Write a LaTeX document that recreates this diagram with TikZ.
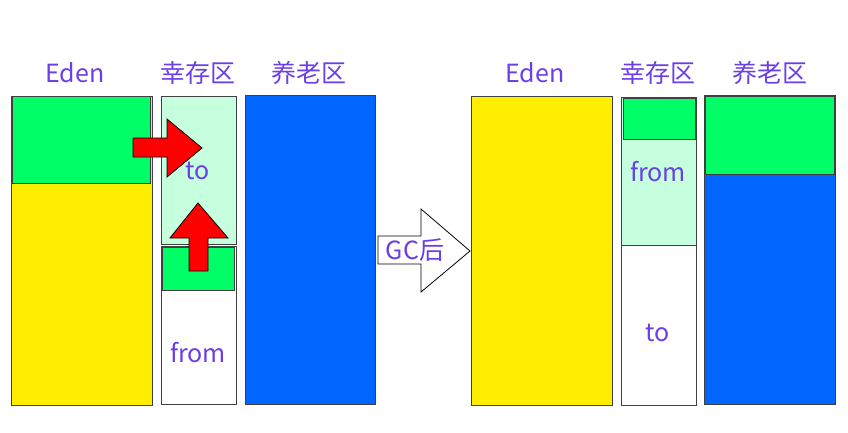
\documentclass[tikz,border=0pt]{standalone}
\usepackage{fontspec}
\newfontfamily\cjk{Noto Sans CJK SC}
\usepackage{tikz}

\definecolor{edenyellow}{HTML}{FFEE00}
\definecolor{livegreen}{HTML}{00FF66}
\definecolor{palegreen}{HTML}{C6FFDD}
\definecolor{oldblue}{HTML}{0066FF}
\definecolor{labelpurple}{HTML}{6A3FE8}

\tikzset{blk/.style={draw=black!75,line width=1pt},
lbl/.style={text=labelpurple,font=\cjk\fontsize{25}{29}\selectfont,inner sep=0pt},
bigarrow/.style={draw=black,line width=0.8pt,line join=miter}}

\begin{document}
\begin{tikzpicture}[x=1pt,y=-1pt]
\useasboundingbox (0,0) rectangle (848,432);

%Before GC

\draw [blk,fill=edenyellow](11,96) rectangle (152,405); \draw [blk,fill=livegreen](12,96) rectangle (150,183);
\draw [blk,fill=palegreen](161,96) rectangle (236,244); \draw [blk,fill=white](161,246) rectangle (236,404); \draw [blk,fill=livegreen](162,247) rectangle (234,290);
\draw [blk,fill=oldblue](245,95) rectangle (375,404);

\draw [bigarrow,fill=red](133,138)--(167,138)--(167,119)--(202,148)--(167,177)--(167,157)--(133,157)--cycle;
\draw [bigarrow,fill=red](189,271)--(189,238)--(170,238)--(198,203)--(228,238)--(208,238)--(208,271)--cycle;

\node [lbl] (edenA) at (75,73){Eden}; \node [lbl] (survA) at (198,73){幸存区}; \node [lbl] (oldA) at (309,73){养老区};
\node [lbl] (toA) at (198,171){to}; \node [lbl] (fromA) at (198,353){from};

%GC arrow
\draw [bigarrow,fill=white](378,236)--(421,236)--(421,209)--(470,251)--(421,292)--(421,264)--(378,264)--cycle;
\node [lbl] (gc) at (415,250){GC后};

%After GC

\draw [blk,fill=edenyellow](471,96) rectangle (612,405);
\draw [blk,fill=palegreen](621,97) rectangle (696,245); \draw [blk,fill=white](621,245) rectangle (696,405); \draw [blk,fill=livegreen](623,98) rectangle (695,139);
\draw [blk,fill=oldblue](704,95) rectangle (835,404); \draw [blk,fill=livegreen](705,96) rectangle (834,174);

\node [lbl] (edenB) at (535,73){Eden}; \node [lbl] (survB) at (658,73){幸存区}; \node [lbl] (oldB) at (770,73){养老区};
\node [lbl] (fromB) at (658,172){from}; \node [lbl] (toB) at (658,333){to};

\end{tikzpicture}
\end{document}
